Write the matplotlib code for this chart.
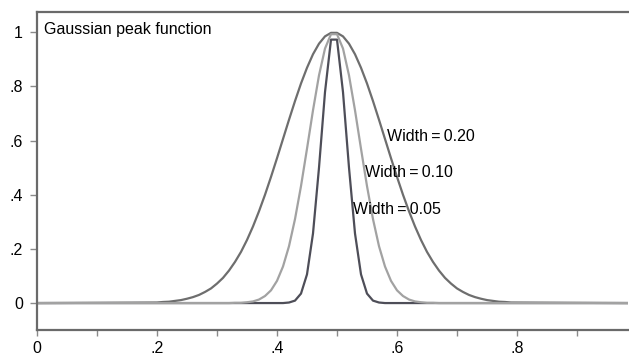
import numpy as np
import matplotlib
matplotlib.use("Agg")
import matplotlib.pyplot as plt

plt.rcParams["font.family"] = ["Liberation Sans", "DejaVu Sans"]

# ── data: right half of each peak (curves are symmetric about the centre) ──
centre = 0.495
offsets = [0.005, 0.015, 0.025, 0.035, 0.045, 0.055, 0.065, 0.075, 0.085, 0.095,
           0.105, 0.115, 0.125, 0.135, 0.145, 0.155, 0.165, 0.175, 0.185, 0.195,
           0.205, 0.215, 0.225, 0.235, 0.245, 0.255, 0.265, 0.275, 0.285, 0.295]

peak_w20 = [0.998, 0.985, 0.958, 0.919, 0.869, 0.811, 0.746, 0.677, 0.606, 0.535,
            0.466, 0.400, 0.339, 0.283, 0.233, 0.189, 0.152, 0.120, 0.093, 0.072,
            0.054, 0.041, 0.030, 0.022, 0.016, 0.011, 0.008, 0.005, 0.004, 0.002]
peak_w10 = [0.993, 0.940, 0.841, 0.712, 0.570, 0.432, 0.310, 0.210, 0.135, 0.082,
            0.047, 0.026, 0.013, 0.006, 0.003, 0.001, 0.001, 0.0, 0.0, 0.0,
            0.0, 0.0, 0.0, 0.0, 0.0, 0.0, 0.0, 0.0, 0.0, 0.0]
peak_w05 = [0.973, 0.779, 0.500, 0.257, 0.106, 0.035, 0.009, 0.002, 0.0, 0.0,
            0.0, 0.0, 0.0, 0.0, 0.0, 0.0, 0.0, 0.0, 0.0, 0.0,
            0.0, 0.0, 0.0, 0.0, 0.0, 0.0, 0.0, 0.0, 0.0, 0.0]

x_start, x_end = 0.0, 0.99

labels = ["Width\u2009=\u20090.20", "Width\u2009=\u20090.10", "Width\u2009=\u20090.05"]
label_pos = [(0.583, 0.615), (0.547, 0.483), (0.527, 0.346)]

x_ticks = [0, 0.2, 0.4, 0.6, 0.8]
x_ticklabels = ["0", ".2", ".4", ".6", ".8"]
y_ticks = [0, 0.2, 0.4, 0.6, 0.8, 1.0]
y_ticklabels = ["0", ".2", ".4", ".6", ".8", "1"]


def full_curve(half):
    """mirror a right-half profile around the centre and pad with zeros"""
    off = np.array(offsets)
    xs = np.concatenate([[x_start], centre - off[::-1], centre + off, [x_end]])
    ys = np.concatenate([[0.0], np.array(half)[::-1], half, [0.0]])
    return xs, ys


fig = plt.figure(figsize=(6.29, 3.56), dpi=100)
ax = fig.add_axes([37 / 629, 1 - 330 / 356, 591 / 629, 318 / 356])

styles = [(peak_w20, "#6e6e6e"), (peak_w05, "#4e4e58"), (peak_w10, "#a2a2a2")]
for half, col in styles:
    xs, ys = full_curve(half)
    ax.plot(xs, ys, color=col, lw=1.6, solid_joinstyle="round")

for txt, (tx, ty) in zip(labels, label_pos):
    ax.text(tx, ty, txt, fontsize=11.5, va="center", ha="left", color="black")

ax.text(0.012, 1.01, "Gaussian peak function", fontsize=11.5, va="center", ha="left")

ax.set_xlim(0, (628 - 37) / 600)
ax.set_ylim(-0.0995, 1.075)

ax.set_xticks(x_ticks)
ax.set_xticklabels(x_ticklabels)
ax.set_xticks([0.1, 0.3, 0.5, 0.7, 0.9], minor=True)
ax.set_yticks(y_ticks)
ax.set_yticklabels(y_ticklabels)

ax.tick_params(axis="both", which="both", direction="out", color="#8a8a8a",
               width=1, labelsize=11.5, labelcolor="black")
ax.tick_params(axis="x", which="both", length=4, pad=4)
ax.tick_params(axis="y", length=5, pad=5)

for side in ["left", "bottom", "top"]:
    ax.spines[side].set_color("#6a6a6a")
    ax.spines[side].set_linewidth(1.6)
ax.spines["right"].set_visible(False)

fig.savefig("out.png", dpi=100)
